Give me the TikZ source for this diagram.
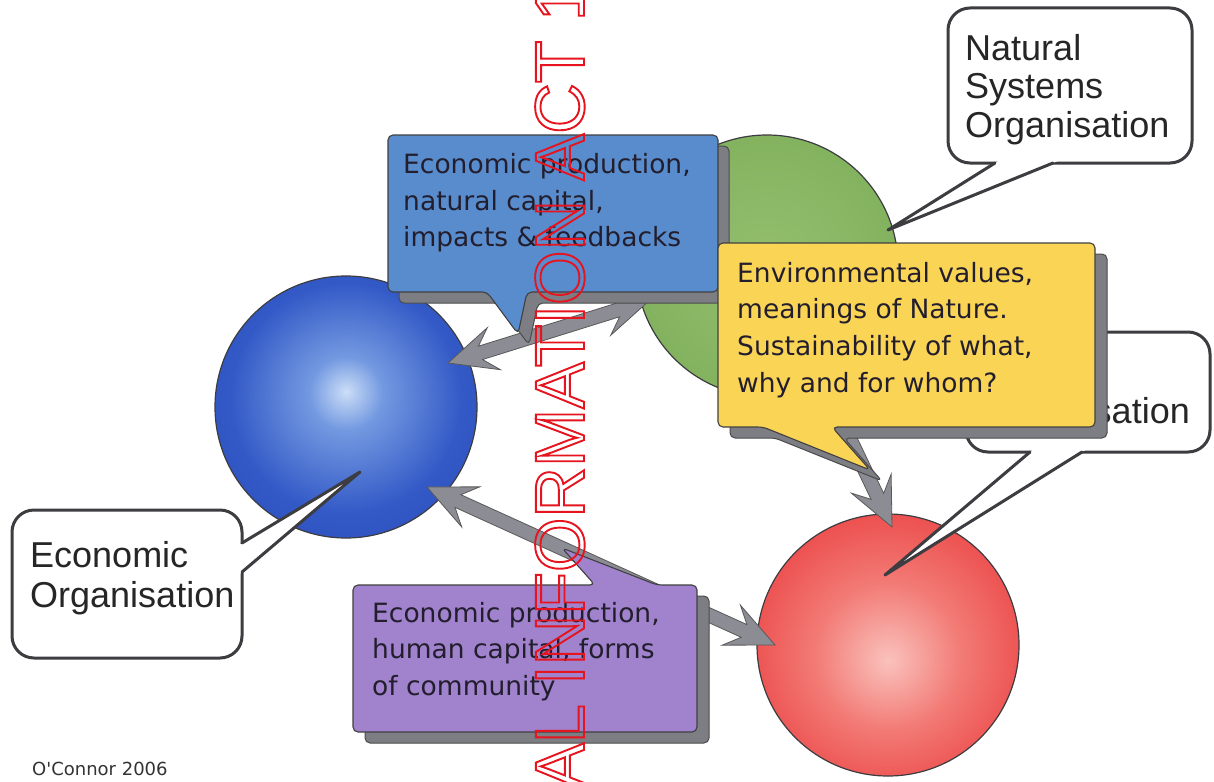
\documentclass[tikz,border=0pt]{standalone}
\usepackage{fontspec}
\setmainfont{DejaVu Sans}
\newfontfamily\lsans{Liberation Sans}
\usetikzlibrary{calc}
\definecolor{boxblue}{RGB}{88,140,205}
\definecolor{boxyellow}{RGB}{250,212,85}
\definecolor{boxpurple}{RGB}{160,130,205}
\definecolor{shadowgray}{RGB}{125,125,132}
\definecolor{arrowgray}{RGB}{140,140,148}
\definecolor{inkdark}{RGB}{35,30,45}
\definecolor{outlinedark}{RGB}{60,60,65}
\definecolor{wmred}{RGB}{230,20,30}
\pgfdeclareradialshading{blueball}{\pgfpoint{0bp}{3bp}}{rgb(0bp)=(0.80,0.87,0.97); rgb(7bp)=(0.45,0.60,0.88); rgb(22bp)=(0.20,0.35,0.78); rgb(50bp)=(0.14,0.26,0.70)}
\pgfdeclareradialshading{greenball}{\pgfpoint{0bp}{0bp}}{rgb(0bp)=(0.58,0.75,0.43); rgb(50bp)=(0.45,0.65,0.32)}
\pgfdeclareradialshading{redball}{\pgfpoint{0bp}{-3bp}}{rgb(0bp)=(0.98,0.76,0.74); rgb(14bp)=(0.95,0.48,0.46); rgb(30bp)=(0.92,0.27,0.27); rgb(50bp)=(0.88,0.20,0.20)}
\tikzset{
 ball/.style={circle, minimum size=262pt, inner sep=0pt, draw=outlinedark, line width=1.2pt, shade},
 grayarrow/.style={fill=arrowgray, draw=black!65, line width=0.8pt, line join=miter},
 whitecall/.style={fill=white, draw=outlinedark, line width=3pt, rounded corners=22pt},
 calltail/.style={draw=outlinedark, line width=3pt, line join=round, line cap=round},
 boxshadow/.style={fill=shadowgray, draw=black!70, line width=1pt, rounded corners=5pt},
 colorbox/.style={draw=black!75, line width=1.1pt, rounded corners=5pt},
 boxtext/.style={anchor=base west, inner sep=0pt, text=inkdark, font=\fontsize{26.5}{32}\selectfont},
 calltext/.style={anchor=base west, inner sep=0pt, text=black!85, font=\lsans\fontsize{36}{40}\selectfont},
}
\newcommand{\dblarrow}[2]{%
 \filldraw[grayarrow] (#1) -- ($(#1)!52.8pt!24.6:(#2)$) -- ($(#1)!34.7pt!11.6:(#2)$) -- ($(#2)!34.7pt!-11.6:(#1)$) -- ($(#2)!52.8pt!-24.6:(#1)$) -- (#2) -- ($(#2)!52.8pt!24.6:(#1)$) -- ($(#2)!34.7pt!11.6:(#1)$) -- ($(#1)!34.7pt!-11.6:(#2)$) -- ($(#1)!52.8pt!-24.6:(#2)$) -- cycle;}
\def\bluepath{(388,135) -- (718,135) -- (718,292) -- (527,292) -- (518,334) -- (487,292) -- (388,292) -- cycle}
\def\yellowpath{(718,243) -- (1095,243) -- (1095,427) -- (832,427) -- (870,470) -- (763,427) -- (718,427) -- cycle}
\def\purplepath{(353,585) -- (595,585) -- (562,548) -- (657,585) -- (697,585) -- (697,732) -- (353,732) -- cycle}
\begin{document}
\begin{tikzpicture}[x=1pt,y=-1pt]
\useasboundingbox (0,0) rectangle (1214,781);
\fill[white] (0,0) rectangle (1214,781);
% spheres
\node[ball, shading=blueball] (blue) at (346,407) {};
\node[ball, shading=greenball] (green) at (767,266) {};
\node[ball, shading=redball] (red) at (888,645) {};
% arrows
\coordinate (bgA) at (448,363); \coordinate (bgB) at (650,300);
\coordinate (grA) at (805,345); \coordinate (grB) at (892,527);
\coordinate (brA) at (427,487); \coordinate (brB) at (775,645);
\dblarrow{bgA}{bgB}
\dblarrow{grA}{grB}
\dblarrow{brA}{brB}
% Natural systems callout
\draw[whitecall] (948,8) rectangle (1192,163);
\coordinate (nsT) at (888,230); \coordinate (nsB1) at (995,163); \coordinate (nsB2) at (1053,163);
\fill[white] ($(nsB1)!-6pt!(nsT)$) -- (nsT) -- ($(nsB2)!-6pt!(nsT)$) -- cycle;
\draw[calltail] (nsB1) -- (nsT) -- (nsB2);
\node[calltext] (ns1) at (965,61) {Natural};
\node[calltext] (ns2) at (965,99) {Systems};
\node[calltext] (ns3) at (965,137) {Organisation};
% Economic organisation callout
\draw[whitecall] (12,510) rectangle (242,658);
\coordinate (eoT) at (360,472); \coordinate (eoB1) at (242,543); \coordinate (eoB2) at (242,572);
\fill[white] ($(eoB1)!-6pt!(eoT)$) -- (eoT) -- ($(eoB2)!-6pt!(eoT)$) -- cycle;
\draw[calltail] (eoB1) -- (eoT) -- (eoB2);
\node[calltext] (eo1) at (30,567) {Economic};
\node[calltext] (eo2) at (30,607) {Organisation};
% Social callout (mostly hidden)
\draw[whitecall] (966,332) rectangle (1210,452);
\coordinate (soT) at (885,575); \coordinate (soB1) at (1030,452); \coordinate (soB2) at (1082,452);
\fill[white] ($(soB1)!-6pt!(soT)$) -- (soT) -- ($(soB2)!-6pt!(soT)$) -- cycle;
\draw[calltail] (soB1) -- (soT) -- (soB2);
\node[calltext, anchor=base east] (so1) at (1190,423) {Organisation};
% blue box
\filldraw[boxshadow, shift={(11,11)}] \bluepath;
\filldraw[colorbox, fill=boxblue] \bluepath;
\node[boxtext] (b1) at (403,173) {Economic production,};
\node[boxtext] (b2) at (403,210) {natural capital,};
\node[boxtext] (b3) at (403,246) {impacts \& feedbacks};
% yellow box
\filldraw[boxshadow, shift={(12,11)}] \yellowpath;
\filldraw[colorbox, fill=boxyellow] \yellowpath;
\node[boxtext] (y1) at (737,282) {Environmental values,};
\node[boxtext] (y2) at (737,318) {meanings of Nature.};
\node[boxtext] (y3) at (737,355) {Sustainability of what,};
\node[boxtext] (y4) at (737,392) {why and for whom?};
% purple box
\filldraw[boxshadow, shift={(12,11)}] \purplepath;
\filldraw[colorbox, fill=boxpurple] \purplepath;
\node[boxtext] (p1) at (372,622) {Economic production,};
\node[boxtext] (p2) at (372,658) {human capital, forms};
\node[boxtext] (p3) at (372,695) {of community};
% credit
\node[anchor=base west, inner sep=0pt, text=black!80, font=\fontsize{18}{20}\selectfont] (oc) at (32,775) {O\textquotesingle Connor 2006};
% watermark
\node[rotate=90, anchor=base west, inner sep=0pt, text=wmred, font=\lsans\fontsize{70}{70}\selectfont] (wm) at (584,790) {\special{pdf:literal direct 1 Tr 1.9 w 0.9 0.08 0.12 RG}AL INFORMATION ACT 1\special{pdf:literal direct 0 Tr}};
\end{tikzpicture}
\end{document}
